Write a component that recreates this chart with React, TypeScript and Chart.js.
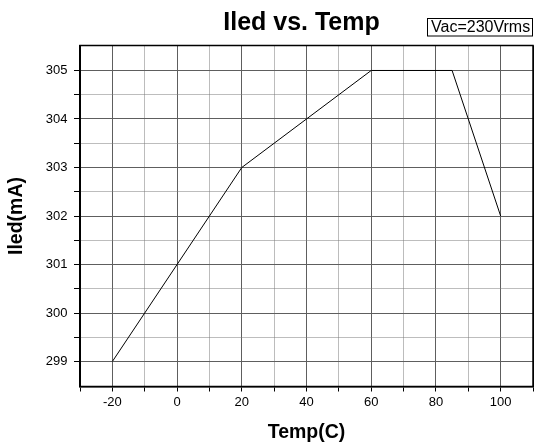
import React, { useEffect, useRef } from "react";
import { Chart, registerables } from "chart.js";

Chart.register(...registerables);

const TITLE = "Iled vs. Temp";
const NOTE = "Vac=230Vrms";
const X_TITLE = "Temp(C)";
const Y_TITLE = "Iled(mA)";

const tempC = [-20, 20, 60, 85, 100];
const iledMA = [299, 303, 305, 305, 302];

const xTickValues = [-30, -20, -10, 0, 10, 20, 30, 40, 50, 60, 70, 80, 90, 100, 110];
const xTickLabels = ["", "-20", "", "0", "", "20", "", "40", "", "60", "", "80", "", "100", ""];
const yTickValues = [299, 299.5, 300, 300.5, 301, 301.5, 302, 302.5, 303, 303.5, 304, 304.5, 305];
const yTickLabels = ["299", "", "300", "", "301", "", "302", "", "303", "", "304", "", "305"];

const X_MIN = -30;
const X_MAX = 110;
const Y_MIN = 298.485;
const Y_MAX = 305.515;

const FONT = "'Liberation Sans', Arial, Helvetica, sans-serif";

const MAJOR = "#5e5e5e";
const MINOR = "#7a7a7a";

const headerPlugin = {
  id: "header",
  afterDraw(chart: any) {
    const { ctx, chartArea } = chart;
    ctx.save();
    // frame
    ctx.strokeStyle = "#000";
    ctx.lineWidth = 1.5;
    ctx.strokeRect(chartArea.left, chartArea.top, chartArea.right - chartArea.left, chartArea.bottom - chartArea.top);
    // title
    ctx.fillStyle = "#000";
    ctx.font = `bold 25px ${FONT}`;
    ctx.textAlign = "center";
    ctx.textBaseline = "alphabetic";
    ctx.fillText(TITLE, 301.5, 30);
    // note box
    const bx = 427, by = 18.5, bw = chartArea.right - 427, bh = 17.5;
    ctx.fillStyle = "#fff";
    ctx.fillRect(bx, by, bw, bh);
    ctx.strokeStyle = "#000";
    ctx.lineWidth = 1;
    ctx.strokeRect(bx + 0.5, by, bw - 1, bh);
    ctx.fillStyle = "#000";
    ctx.font = `16px ${FONT}`;
    ctx.textAlign = "left";
    ctx.fillText(NOTE, 431, 31.5);
    ctx.restore();
  },
};

export default function App() {
  const ref = useRef<HTMLCanvasElement | null>(null);

  useEffect(() => {
    document.body.style.margin = "0";
    if (!ref.current) return;
    Chart.defaults.font.family = FONT;
    Chart.defaults.color = "#000";
    const chart = new Chart(ref.current, {
      type: "line",
      data: {
        datasets: [
          {
            data: tempC.map((x, i) => ({ x, y: iledMA[i] })),
            borderColor: "#000",
            borderWidth: 1,
            pointRadius: 0,
            fill: false,
            tension: 0,
          },
        ],
      },
      options: {
        animation: false,
        responsive: false,
        devicePixelRatio: 1,
        layout: { padding: { top: 45.5, right: 1.5, left: 0, bottom: 0 } },
        plugins: {
          legend: { display: false },
          tooltip: { enabled: false },
          title: { display: false },
        },
        scales: {
          x: {
            type: "linear",
            min: X_MIN,
            max: X_MAX,
            afterBuildTicks: (s: any) => {
              s.ticks = xTickValues.map((v) => ({ value: v }));
            },
            afterFit: (s: any) => {
              s.height = 58.5;
            },
            ticks: {
              autoSkip: false,
              maxRotation: 0,
              padding: 3,
              font: { size: 13 },
              color: "#000",
              callback: (_v: any, i: number) => xTickLabels[i],
            },
            grid: {
              drawTicks: true,
              tickLength: 5,
              tickColor: "#000",
              tickWidth: 1,
              tickBorderDash: [],
              lineWidth: 1,
              color: (c: any) => {
                const v = c.tick ? c.tick.value : 0;
                if (v === X_MIN || v === X_MAX) return "#000";
                return v % 20 === 0 ? MAJOR : MINOR;
              },
            },
            border: {
              display: true,
              color: "#000",
              width: 1.5,
              dash: (c: any) => {
                if (!c.tick) return [];
                const v = c.tick.value;
                if (v === X_MIN || v === X_MAX) return [];
                return v % 20 === 0 ? [] : [1, 1];
              },
            },
            title: {
              display: true,
              text: X_TITLE,
              font: { size: 19.5, weight: "bold" },
              padding: { top: 0, bottom: 1 },
              color: "#000",
            },
          },
          y: {
            type: "linear",
            min: Y_MIN,
            max: Y_MAX,
            afterBuildTicks: (s: any) => {
              s.ticks = yTickValues.map((v) => ({ value: v }));
            },
            afterFit: (s: any) => {
              s.width = 80;
            },
            ticks: {
              autoSkip: false,
              padding: 6.5,
              font: { size: 13 },
              color: "#000",
              callback: (_v: any, i: number) => yTickLabels[i],
            },
            grid: {
              drawTicks: true,
              tickLength: 6,
              tickColor: "#000",
              tickWidth: 1,
              tickBorderDash: [],
              lineWidth: 1,
              color: (c: any) => {
                const v = c.tick ? c.tick.value : 0;
                return Number.isInteger(v) ? MAJOR : MINOR;
              },
            },
            border: {
              display: true,
              color: "#000",
              width: 1.5,
              dash: (c: any) => {
                if (!c.tick) return [];
                return Number.isInteger(c.tick.value) ? [] : [1, 1];
              },
            },
            title: {
              display: true,
              text: Y_TITLE,
              font: { size: 19.5, weight: "bold" },
              padding: { top: 5, bottom: 0 },
              color: "#000",
            },
          },
        },
      },
      plugins: [headerPlugin],
    } as any);
    return () => chart.destroy();
  }, []);

  return (
    <div style={{ position: "fixed", left: 0, top: 0, width: 536, height: 445, background: "#fff" }}>
      <canvas ref={ref} width={536} height={445} />
    </div>
  );
}
